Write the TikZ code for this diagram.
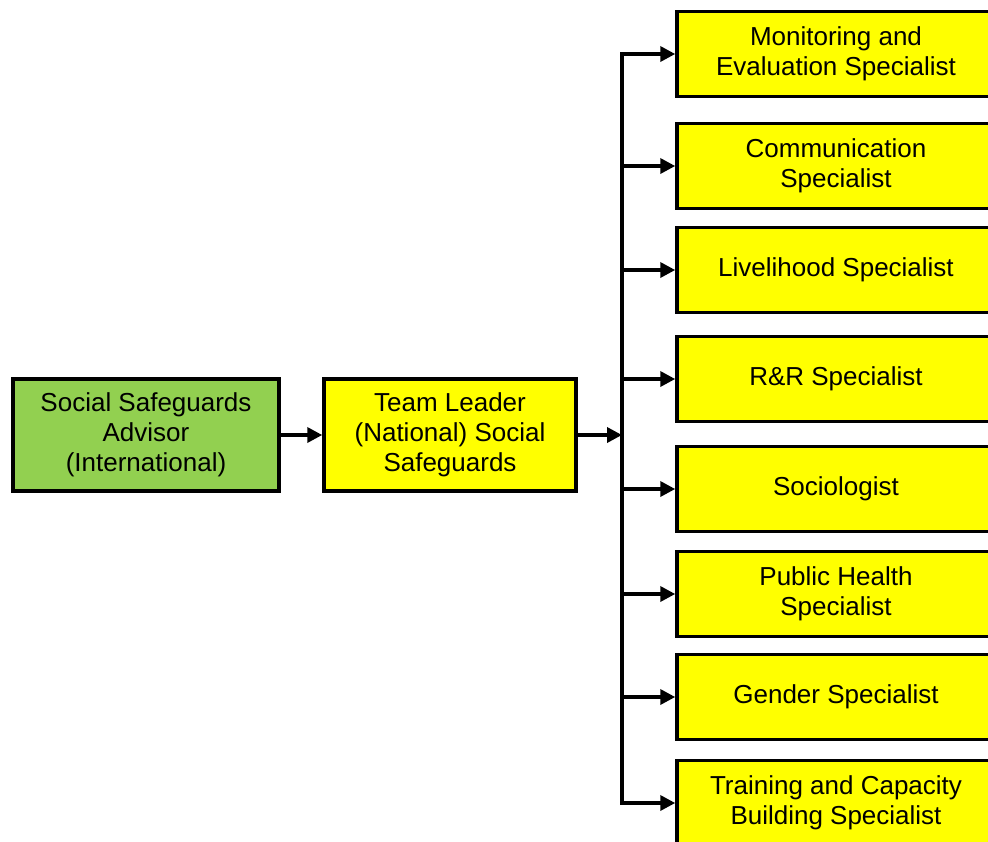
\documentclass[tikz,border=0pt]{standalone}
\usepackage{fontspec}
\setmainfont{Liberation Sans}
\usetikzlibrary{arrows.meta}
\definecolor{leafgreen}{HTML}{92D050}
\definecolor{boxyellow}{HTML}{FFFF00}
\tikzset{
	box/.style={shape=rectangle,draw=black,line width=3.5pt,align=center,inner sep=0pt,font=\fontsize{26}{30}\selectfont},
	staff/.style={box,fill=boxyellow,minimum width=318pt,minimum height=85pt},
	link/.style={line width=3.5pt,-{Triangle[length=15pt,width=15pt]}}
}
\begin{document}
\begin{tikzpicture}[x=1pt,y=-1pt]
	\useasboundingbox (0,0) rectangle (988,841);

	\node[box,fill=leafgreen,minimum width=266pt,minimum height=112pt] (advisor) at (146,435) {Social Safeguards\\Advisor\\(International)};
	\node[box,fill=boxyellow,minimum width=252pt,minimum height=112pt] (leader) at (450,435) {Team Leader\\(National) Social\\Safeguards};

	\node[staff] (monitor) at (836,54) {Monitoring and\\Evaluation Specialist};
	\node[staff] (comm) at (836,166) {Communication\\Specialist};
	\node[staff] (liveli) at (836,270) {Livelihood Specialist};
	\node[staff] (rnr) at (836,379) {R\&R Specialist};
	\node[staff] (socio) at (836,489) {Sociologist};
	\node[staff] (health) at (836,594) {Public Health\\Specialist};
	\node[staff] (gender) at (836,697) {Gender Specialist};
	\node[staff] (training) at (836,803) {Training and Capacity\\Building Specialist};

	\coordinate (hub) at (622,435);
	\coordinate (b1) at (622,54);
	\coordinate (b2) at (622,166);
	\coordinate (b3) at (622,270);
	\coordinate (b4) at (622,379);
	\coordinate (b5) at (622,489);
	\coordinate (b6) at (622,594);
	\coordinate (b7) at (622,697);
	\coordinate (b8) at (622,803);

	\draw (advisor) [link] -- (leader);
	\draw (leader) [link] -- (hub);
	\draw (b1) [line width=3.5pt,line cap=rect] -- (b8);
	\draw (b1) [link] -- (monitor);
	\draw (b2) [link] -- (comm);
	\draw (b3) [link] -- (liveli);
	\draw (b4) [link] -- (rnr);
	\draw (b5) [link] -- (socio);
	\draw (b6) [link] -- (health);
	\draw (b7) [link] -- (gender);
	\draw (b8) [link] -- (training);
\end{tikzpicture}
\end{document}
